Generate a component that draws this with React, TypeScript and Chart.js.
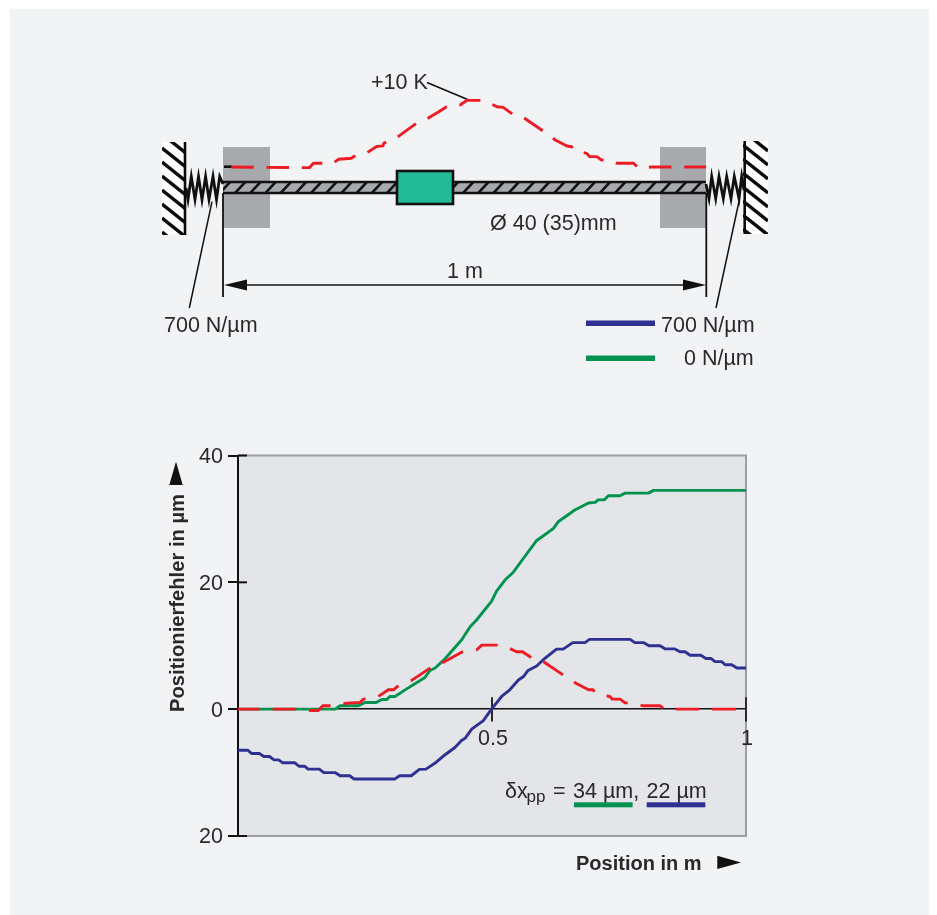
import React, { useEffect, useRef } from "react";
import { Chart, registerables } from "chart.js";

Chart.register(...registerables);

const greenPos = [0, 0.191, 0.201, 0.237, 0.25, 0.272, 0.283, 0.293, 0.299, 0.309, 0.332, 0.368, 0.378, 0.388, 0.407, 0.44, 0.457, 0.47, 0.499, 0.509, 0.526, 0.542, 0.562, 0.588, 0.604, 0.621, 0.631, 0.663, 0.69, 0.703, 0.709, 0.721, 0.729, 0.752, 0.762, 0.808, 0.818, 1];
const greenVal = [0, 0, 0.53, 0.53, 1.05, 1.05, 1.53, 1.53, 2, 2, 3.2, 5, 6.1, 6.5, 7.9, 10.9, 13, 14.1, 17, 18.6, 20.4, 21.6, 23.8, 26.6, 27.5, 28.5, 29.6, 31.4, 32.5, 32.6, 33, 33, 33.65, 33.65, 34.07, 34.07, 34.5, 34.5];

const bluePos = [0, 0.019, 0.027, 0.042, 0.051, 0.062, 0.071, 0.08, 0.088, 0.112, 0.12, 0.131, 0.138, 0.16, 0.169, 0.191, 0.201, 0.22, 0.228, 0.309, 0.318, 0.341, 0.357, 0.37, 0.388, 0.403, 0.427, 0.44, 0.447, 0.46, 0.483, 0.499, 0.519, 0.535, 0.552, 0.562, 0.571, 0.588, 0.601, 0.627, 0.64, 0.659, 0.683, 0.692, 0.772, 0.781, 0.798, 0.809, 0.831, 0.841, 0.86, 0.87, 0.88, 0.89, 0.911, 0.921, 0.931, 0.939, 0.952, 0.959, 0.972, 0.982, 1];
const blueVal = [-6.47, -6.47, -7, -7, -7.47, -7.47, -8, -8, -8.46, -8.46, -9, -9, -9.46, -9.46, -10, -10, -10.5, -10.5, -11, -11, -10.5, -10.5, -9.5, -9.46, -8.5, -7.47, -6.05, -4.94, -4.6, -3.15, -1.8, 0, 2, 3.05, 4.6, 5.15, 6.1, 6.8, 7.8, 9.46, 9.46, 10.5, 10.5, 11, 11, 10.5, 10.5, 10, 10, 9.5, 9.5, 9.05, 9.05, 8.5, 8.5, 8, 8, 7.5, 7.5, 7, 7, 6.5, 6.5];

const redPos = [0, 0.13, 0.138, 0.158, 0.167, 0.184, 0.214, 0.24, 0.247, 0.276, 0.296, 0.306, 0.314, 0.341, 0.378, 0.407, 0.443, 0.47, 0.48, 0.516, 0.535, 0.548, 0.56, 0.58, 0.601, 0.64, 0.667, 0.69, 0.699, 0.706, 0.732, 0.737, 0.752, 0.762, 0.772, 0.798, 0.831, 0.841, 0.85, 1];
const redVal = [0, 0, -0.2, -0.2, 0.53, 0.53, 0.95, 1.05, 1.58, 2, 3.05, 3.05, 3.58, 4.5, 6.47, 7.5, 9.1, 9.36, 10.1, 10.1, 9.57, 9.05, 9.05, 8, 7.5, 5.4, 4, 3.05, 3.05, 2.4, 2, 1.58, 1.58, 1, 1, 0.53, 0.53, -0.1, 0, 0];

const tempPos = [0, 0.179, 0.187, 0.228, 0.239, 0.266, 0.27, 0.294, 0.318, 0.331, 0.333, 0.36, 0.401, 0.425, 0.446, 0.463, 0.491, 0.505, 0.536, 0.556, 0.567, 0.58, 0.6, 0.622, 0.662, 0.688, 0.712, 0.722, 0.727, 0.753, 0.759, 0.774, 0.783, 0.793, 0.817, 0.85, 0.861, 0.888, 1];
const tempVal = [0, -0.1, 0.55, 0.55, 1.15, 1.3, 1.54, 1.94, 3.05, 3.15, 3.55, 4.4, 6.57, 7.3, 8.2, 9, 9.25, 9.95, 9.95, 9.4, 9, 8.9, 7.86, 7.4, 5.4, 4.03, 3.13, 3.03, 2.43, 2.04, 1.54, 1.54, 1.05, 1.05, 0.55, 0.55, -0.2, 0, 0];

const yTickLabels = [-20, 0, 20, 40];
const xTickLabels = [0.5, 1];

const zip = (xs: number[], ys: number[]) => xs.map((x, i) => ({ x, y: ys[i] }));

const INK = "#2b2829";
const BLUE = "#2e3192";
const GREEN = "#00934f";
const RED = "#ed1c24";
const GREY = "#a7a9ac";
const FONT = '"Liberation Sans", Arial, sans-serif';
const LABEL = `21.5px ${FONT}`;

function text(c: CanvasRenderingContext2D, s: string, x: number, y: number, font = LABEL, color = INK) {
  c.font = font;
  c.fillStyle = color;
  c.textAlign = "left";
  c.textBaseline = "alphabetic";
  c.fillText(s, x, y);
}

function line(c: CanvasRenderingContext2D, pts: number[][], w = 1.5, color = "#111") {
  c.beginPath();
  pts.forEach((p, i) => (i ? c.lineTo(p[0], p[1]) : c.moveTo(p[0], p[1])));
  c.lineWidth = w;
  c.strokeStyle = color;
  c.stroke();
}

function tri(c: CanvasRenderingContext2D, pts: number[][], color = "#111") {
  c.beginPath();
  pts.forEach((p, i) => (i ? c.lineTo(p[0], p[1]) : c.moveTo(p[0], p[1])));
  c.closePath();
  c.fillStyle = color;
  c.fill();
}

function wall(c: CanvasRenderingContext2D, x: number, y: number, w: number, h: number, edge: number, phase: number) {
  c.save();
  c.beginPath();
  c.rect(x, y, w, h);
  c.clip();
  c.fillStyle = "#fff";
  c.fillRect(x, y, w, h);
  c.strokeStyle = "#0a0a0a";
  c.lineWidth = 3.4;
  for (let yy = y + phase; yy < y + h + 10; yy += 14) {
    c.beginPath();
    c.moveTo(x, yy);
    c.lineTo(x + w, yy + w * 0.8);
    c.stroke();
  }
  c.restore();
  line(c, [[edge, y], [edge, y + h]], 2.6, "#0a0a0a");
}

const drawing = {
  id: "drawing",
  beforeDraw(chart: any) {
    const c = chart.ctx as CanvasRenderingContext2D;
    const a = chart.chartArea;
    c.save();
    c.fillStyle = "#ffffff";
    c.fillRect(0, 0, 937, 915);
    c.fillStyle = "#f2f3f5";
    c.fillRect(10, 9, 919, 906);
    c.fillStyle = "#e4e5e8";
    c.fillRect(a.left, a.top, a.width, a.height);
    line(c, [[a.left, a.top], [a.right, a.top], [a.right, a.bottom], [a.left, a.bottom]], 2, "#9d9ea1");
    c.restore();
  },
  beforeDatasetsDraw(chart: any) {
    const c = chart.ctx as CanvasRenderingContext2D;
    c.save();
    // bearing blocks
    c.fillStyle = GREY;
    c.fillRect(223, 147, 47, 81);
    c.fillRect(660, 147, 46, 81);
    // beam
    c.save();
    c.beginPath();
    c.rect(223, 181, 483, 13);
    c.clip();
    c.fillStyle = GREY;
    c.fillRect(223, 181, 483, 13);
    c.strokeStyle = "#111";
    c.lineWidth = 2.6;
    for (let x = 225; x < 720; x += 15.2) {
      c.beginPath();
      c.moveTo(x - 7, 195);
      c.lineTo(x + 7, 180);
      c.stroke();
    }
    c.restore();
    line(c, [[223, 182], [706, 182]], 2.6, "#111");
    line(c, [[223, 193], [706, 193]], 2.6, "#111");
    // drive nut
    c.fillStyle = "#21bb97";
    c.fillRect(397, 171, 56, 33);
    c.strokeStyle = "#111";
    c.lineWidth = 2.6;
    c.strokeRect(397, 171, 56, 33);
    // walls
    wall(c, 162, 142, 24, 93, 185, -36);
    wall(c, 743, 141, 25, 93, 744.7, -38);
    // springs
    line(c, [[186, 188], [188, 199.5], [191.3, 176.5], [195, 199.5], [198.5, 176.5], [202, 199.5], [205.6, 176.5], [209, 199.5], [213, 176.5], [216.5, 199.5], [219.7, 176.5], [223, 184]], 2.8, "#111");
    line(c, [[706, 184], [709, 198.5], [711.7, 176.5], [715.7, 198.5], [719, 176.5], [723.3, 198.5], [726.7, 176.5], [731, 198.5], [734.3, 176.5], [739, 198.5], [741.7, 176.5], [744, 190]], 2.8, "#111");
    // dimension
    line(c, [[223, 193], [223, 297]], 1.8);
    line(c, [[706.3, 193], [706.3, 297]], 1.8);
    line(c, [[240, 285], [690, 285]], 1.4);
    tri(c, [[224, 285], [247, 279.6], [247, 290.4]]);
    tri(c, [[706, 285], [683, 279.6], [683, 290.4]]);
    // leaders
    line(c, [[212, 201.7], [189.3, 308]], 1.5);
    line(c, [[739.3, 200], [716, 308]], 1.5);
    line(c, [[427, 82.5], [470, 100.5]], 1.5);
    line(c, [[224, 166.7], [232, 166.7]], 2.6, "#111");
    // inner ticks of the plot
    const xs = chart.scales.x;
    const ys = chart.scales.y;
    const a = chart.chartArea;
    const y0 = ys.getPixelForValue(0);
    xTickLabels.forEach((v) => {
      const x = xs.getPixelForValue(v);
      line(c, [[x, y0 - 12], [x, y0]], 2, INK);
    });
    yTickLabels.filter((v) => v !== 0).forEach((v) => {
      const y = ys.getPixelForValue(v);
      line(c, [[a.left, y], [a.left + 9, y]], 2, "#111");
    });
    c.restore();
  },
  afterDraw(chart: any) {
    const c = chart.ctx as CanvasRenderingContext2D;
    c.save();
    text(c, "+10 K", 371, 89);
    text(c, "700 N/µm", 164, 331.5);
    text(c, "700 N/µm", 661, 331.5);
    text(c, "0 N/µm", 684, 365);
    text(c, "1 m", 447, 278);
    text(c, "Ø 40 (35)mm", 490, 230);
    c.fillStyle = BLUE;
    c.fillRect(586, 320.5, 69, 5.5);
    c.fillStyle = GREEN;
    c.fillRect(586, 355.5, 69, 5.5);

    text(c, "δx", 505, 798);
    text(c, "pp", 526.5, 802, `17px ${FONT}`);
    text(c, "=", 553, 798);
    text(c, "34 µm,", 573, 798);
    text(c, "22 µm", 646.5, 798);
    c.fillStyle = GREEN;
    c.fillRect(574, 802.3, 58.6, 5);
    c.fillStyle = BLUE;
    c.fillRect(646.7, 802.3, 58.6, 5);

    text(c, "Position in m", 576, 870, `bold 20px ${FONT}`);
    tri(c, [[717.3, 855.7], [741, 862.5], [717.3, 869]], "#111");
    tri(c, [[176, 461.7], [169.3, 485], [182.7, 485]], "#111");
    c.translate(183.5, 712);
    c.rotate(-Math.PI / 2);
    text(c, "Positionierfehler in µm", 0, 0, `bold 20.2px ${FONT}`);
    c.restore();
  },
};

export default function App() {
  const ref = useRef<HTMLCanvasElement>(null);
  useEffect(() => {
    const lineDs = (label: string, data: any[], color: string, extra: any = {}) => ({
      label,
      data,
      borderColor: color,
      backgroundColor: color,
      borderWidth: 2.9,
      pointRadius: 0,
      tension: 0,
      fill: false,
      clip: false,
      borderJoinStyle: "round",
      ...extra,
    });
    const chart = new Chart(ref.current!, {
      type: "line",
      data: {
        datasets: [
          lineDs("Temperatur", zip(tempPos, tempVal), RED, {
            xAxisID: "xs",
            yAxisID: "ys",
            borderDash: [22.5, 12.75],
            borderDashOffset: 27,
          }),
          lineDs("Thermisch", zip(redPos, redVal), RED, { borderDash: [23.5, 13.1], borderDashOffset: 2 }),
          lineDs("700 N/µm", zip(bluePos, blueVal), BLUE),
          lineDs("0 N/µm", zip(greenPos, greenVal), GREEN),
        ],
      },
      options: {
        animation: false,
        responsive: false,
        parsing: false,
        normalized: true,
        layout: { padding: { left: 0, right: 191, top: 455.5, bottom: 79 } },
        plugins: { legend: { display: false }, tooltip: { enabled: false }, title: { display: false } },
        scales: {
          x: {
            type: "linear",
            position: { y: 0 },
            min: 0,
            max: 1,
            afterFit: (s: any) => {
              s.height = 0;
            },
            border: { display: true, color: "#111", width: 1.6 },
            grid: { drawOnChartArea: false, drawTicks: true, tickLength: 12, color: INK, lineWidth: 2 },
            ticks: {
              stepSize: 0.5,
              autoSkip: false,
              maxRotation: 0,
              padding: 5,
              labelOffset: 1,
              color: INK,
              font: { family: FONT, size: 21.5 },
              callback: (v: any) => (xTickLabels.includes(Number(v)) ? String(v) : ""),
            },
          },
          y: {
            type: "linear",
            position: "left",
            min: -20,
            max: 40,
            afterFit: (s: any) => {
              s.width = 238;
            },
            border: { display: true, color: "#111", width: 2 },
            grid: { drawOnChartArea: false, drawTicks: true, tickLength: 10, color: "#111", lineWidth: 2 },
            ticks: {
              stepSize: 20,
              padding: 5,
              labelOffset: 1.5,
              color: INK,
              font: { family: FONT, size: 21.5 },
              callback: (v: any) => String(Math.abs(Number(v))),
            },
          },
          xs: { type: "linear", display: false, axis: "x", min: 0.03106, max: 1.08282 },
          ys: { type: "linear", display: false, axis: "y", min: -99.85, max: -43.06 },
        },
      } as any,
      plugins: [drawing],
    } as any);
    return () => chart.destroy();
  }, []);
  return (
    <canvas
      ref={ref}
      width={937}
      height={915}
      style={{ position: "absolute", left: 0, top: 0, display: "block", width: 937, height: 915 }}
    />
  );
}
